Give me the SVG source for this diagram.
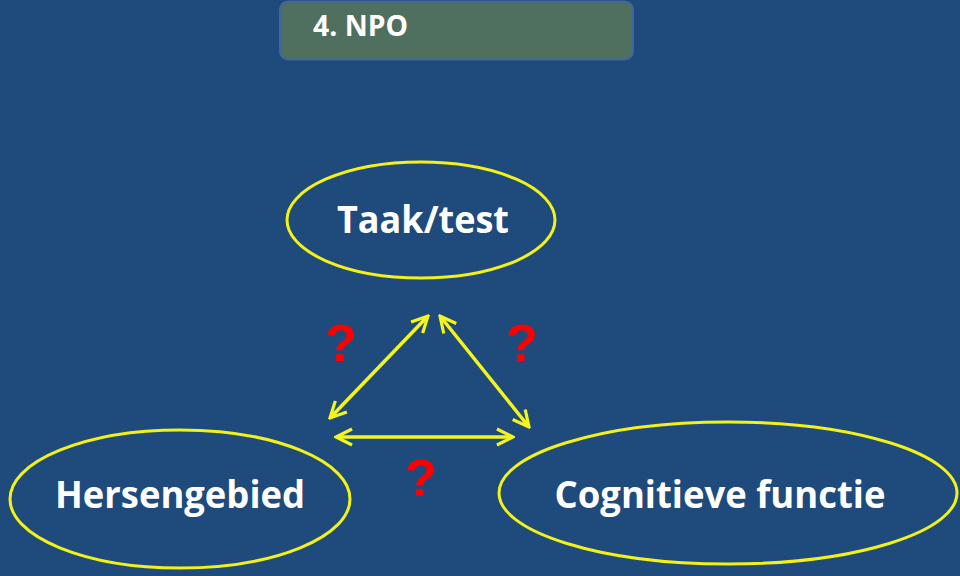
<svg xmlns="http://www.w3.org/2000/svg" width="960" height="576" viewBox="0 0 960 576">
<defs>
<style>
.lbl{font-family:"Open Sans","Liberation Sans",sans-serif;font-weight:bold;fill:#ffffff;text-anchor:middle}
.ell{fill:none;stroke:#f2f21a;stroke-width:3}
.q{font-family:"Liberation Sans",sans-serif;font-weight:bold;fill:#ff0000;font-size:52px;text-anchor:middle}
.conn{stroke:#f5f51e;stroke-width:3.5;fill:none;marker-start:url(#ah);marker-end:url(#ah)}
</style>
<marker id="ah" viewBox="0 0 12 12" refX="11" refY="6" markerWidth="5.5" markerHeight="5.5" orient="auto-start-reverse" markerUnits="strokeWidth">
<path d="M1,1 L11,6 L1,11" fill="none" stroke="#f5f51e" stroke-width="2"/>
</marker>
</defs>
<rect width="960" height="576" fill="#1f4a7c"/>
<g id="title">
<rect x="280" y="1.5" width="353" height="58" rx="8" fill="#4f705f" stroke="#3d67a0" stroke-width="2"/>
<text x="313" y="36" style="font-family:'Open Sans','Liberation Sans',sans-serif;font-weight:bold;font-size:28px;fill:#ffffff" textLength="95" lengthAdjust="spacingAndGlyphs">4. NPO</text>
</g>
<g id="taak">
<ellipse class="ell" cx="421" cy="220" rx="134" ry="58"/>
<text class="lbl" x="423" y="233" font-size="38" textLength="172" lengthAdjust="spacingAndGlyphs">Taak/test</text>
</g>
<g id="hersengebied">
<ellipse class="ell" cx="180" cy="499" rx="170" ry="69"/>
<text class="lbl" x="180" y="508" font-size="38" textLength="250" lengthAdjust="spacingAndGlyphs">Hersengebied</text>
</g>
<g id="cognitieve">
<ellipse class="ell" cx="728" cy="493" rx="229" ry="71"/>
<text class="lbl" x="720" y="508" font-size="38" textLength="331" lengthAdjust="spacingAndGlyphs">Cognitieve functie</text>
</g>
<g id="connectors">
<line class="conn" x1="428" y1="316" x2="330" y2="418"/>
<line class="conn" x1="440" y1="316" x2="529" y2="427"/>
<line class="conn" x1="336" y1="437" x2="513" y2="437"/>
</g>
<g id="questions">
<text class="q" x="341" y="361">?</text>
<text class="q" x="522" y="361">?</text>
<text class="q" x="421" y="496">?</text>
</g>
</svg>
